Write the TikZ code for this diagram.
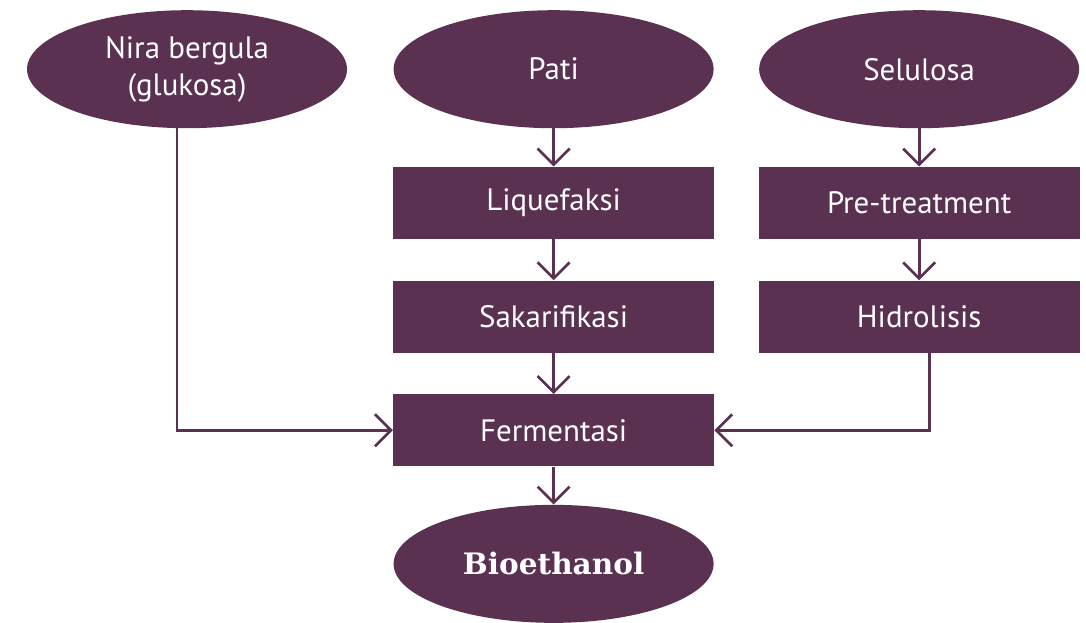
\documentclass[tikz,border=0pt]{standalone}
\usepackage{fontspec}
\setmainfont{PT Sans}
\newfontfamily\biofont{DejaVu Serif}
\usepackage{tikz}
\usetikzlibrary{arrows.meta, positioning, shapes.geometric, calc}
\definecolor{ungu}{RGB}{91,49,82}
\tikzset{
    source/.style={ellipse, fill=ungu, text=white, minimum width=8cm, minimum height=2.95cm, inner sep=0pt, align=center},
    process/.style={rectangle, fill=ungu, text=white, minimum width=8.025cm, minimum height=1.8cm, inner sep=0pt},
    flow/.style={draw=ungu, line width=1.9pt, -{Straight Barb[length=0.4cm, width=0.8cm, line width=1.9pt]}},
    every node/.append style={font=\fontsize{22}{26}\selectfont},
}

\begin{document}
\begin{tikzpicture}
    \useasboundingbox (0,0) rectangle (27.15,-15.55);

    \node[source] (pati) at (13.84,-1.73) {Pati};
    \node[source, left=1.15cm of pati] (nira) {Nira bergula\\(glukosa)};
    \node[source, right=1.125cm of pati] (selulosa) {Selulosa};

    \node[process, below=0.95cm of pati] (liq) {Liquefaksi};
    \node[process, below=1.03cm of liq] (sak) {Sakarifikasi};
    \node[process, below=1.03cm of sak] (ferm) {Fermentasi};
    \node[source, below=0.95cm of ferm] (bio) {\biofont\bfseries\fontsize{21}{25}\selectfont Bioethanol};

    \node[process, below=0.95cm of selulosa] (pre) {Pre-treatment};
    \node[process, below=1.03cm of pre] (hid) {Hidrolisis};

    \draw[flow] (pati) edge (liq);
    \draw[flow] (liq) edge (sak);
    \draw[flow] (sak) edge (ferm);
    \draw[flow] (ferm) edge (bio);
    \draw[flow] (selulosa) edge (pre);
    \draw[flow] (pre) edge (hid);

    \draw[flow] ([xshift=-0.25cm]nira.south) |- (ferm.west);
    \draw[flow] ([xshift=0.25cm]hid.south) |- (ferm.east);
\end{tikzpicture}
\end{document}
